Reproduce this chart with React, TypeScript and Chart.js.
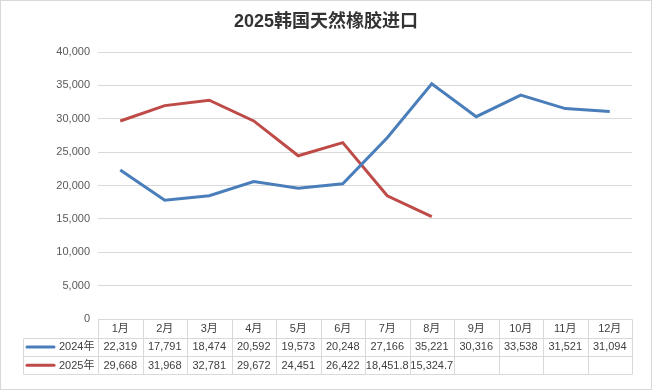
import React, { useEffect, useRef } from "react";
import { Chart, registerables } from "chart.js";

Chart.register(...registerables);

const title = "2025韩国天然橡胶进口";
const months = ["1月", "2月", "3月", "4月", "5月", "6月", "7月", "8月", "9月", "10月", "11月", "12月"];
const seriesNames = ["2024年", "2025年"];
const values2024 = [22319, 17791, 18474, 20592, 19573, 20248, 27166, 35221, 30316, 33538, 31521, 31094];
const values2025: (number | null)[] = [29668, 31968, 32781, 29672, 24451, 26422, 18451.8, 15324.7, null, null, null, null];
const colors = ["#4A7EBB", "#BE4B48"];

const fmt = (v: number | null) => (v == null ? "" : v.toLocaleString("en-US", { maximumFractionDigits: 1 }));

const tablePlugin = {
  id: "tablePlugin",
  afterDraw(chart: any) {
    const { ctx, chartArea } = chart;
    const x = chart.scales.x;
    const W = chart.width;
    const H = chart.height;
    ctx.save();
    // outer border
    ctx.strokeStyle = "#d9d9d9";
    ctx.lineWidth = 1;
    ctx.strokeRect(0.5, 0.5, W - 1, H - 1);

    // title
    ctx.fillStyle = "#333333";
    ctx.font = "bold 18px 'Liberation Sans', 'Noto Sans CJK SC', sans-serif";
    ctx.textAlign = "center";
    ctx.textBaseline = "middle";
    ctx.fillText(title, W / 2, 22);

    const n = months.length;
    const step = (chartArea.right - chartArea.left) / n;
    const top = Math.round(chartArea.bottom) + 0.5;
    const rowH = 18.3;
    const legendLeft = 23.5;
    const left = Math.round(chartArea.left) + 0.5;
    const right = Math.round(chartArea.right) + 0.5;
    const r1 = top + rowH;
    const r2 = r1 + rowH;
    const r3 = r2 + rowH;
    ctx.strokeStyle = "#d9d9d9";
    ctx.beginPath();
    // horizontal lines
    ctx.moveTo(left, top); ctx.lineTo(right, top);
    ctx.moveTo(legendLeft, Math.round(r1) + 0.5); ctx.lineTo(right, Math.round(r1) + 0.5);
    ctx.moveTo(legendLeft, Math.round(r2) + 0.5); ctx.lineTo(right, Math.round(r2) + 0.5);
    ctx.moveTo(legendLeft, Math.round(r3) + 0.5); ctx.lineTo(right, Math.round(r3) + 0.5);
    // verticals
    ctx.moveTo(legendLeft, Math.round(r1) + 0.5); ctx.lineTo(legendLeft, Math.round(r3) + 0.5);
    for (let i = 0; i <= n; i++) {
      const xx = Math.round(chartArea.left + step * i) + 0.5;
      ctx.moveTo(xx, top); ctx.lineTo(xx, Math.round(r3) + 0.5);
    }
    ctx.stroke();

    ctx.font = "11px 'Liberation Sans', 'Noto Sans CJK SC', sans-serif";
    ctx.fillStyle = "#404040";
    ctx.textAlign = "center";
    ctx.textBaseline = "middle";
    const rowsData = [values2024, values2025];
    for (let i = 0; i < n; i++) {
      const cx = x.getPixelForValue(i);
      ctx.fillText(months[i], cx, (top + r1) / 2 + 0.5);
      rowsData.forEach((arr, r) => {
        ctx.fillText(fmt(arr[i]), cx, top + rowH * (r + 1.5) + 0.5);
      });
    }
    // legend cells
    rowsData.forEach((_, r) => {
      const cy = top + rowH * (r + 1.5);
      ctx.strokeStyle = colors[r];
      ctx.lineWidth = 3;
      ctx.lineCap = "round";
      ctx.beginPath();
      ctx.moveTo(27, cy);
      ctx.lineTo(54, cy);
      ctx.stroke();
      ctx.fillStyle = "#404040";
      ctx.textAlign = "left";
      ctx.fillText(seriesNames[r], 59, cy + 0.5);
    });
    ctx.restore();
  },
};

export default function App() {
  const ref = useRef<HTMLCanvasElement>(null);
  useEffect(() => {
    document.body.style.margin = "0";
    const chart = new Chart(ref.current!, {
      type: "line",
      data: {
        labels: months,
        datasets: [
          { label: seriesNames[0], data: values2024, borderColor: colors[0], backgroundColor: colors[0], borderWidth: 3, pointRadius: 0, tension: 0 },
          { label: seriesNames[1], data: values2025, borderColor: colors[1], backgroundColor: colors[1], borderWidth: 3, pointRadius: 0, tension: 0 },
        ],
      },
      options: {
        responsive: false,
        animation: false,
        layout: { padding: { top: 52, bottom: 71, left: 0, right: 20 } },
        plugins: { legend: { display: false }, title: { display: false }, tooltip: { enabled: false } },
        scales: {
          x: { display: false, offset: true },
          y: {
            min: 0,
            max: 40000,
            afterFit: (s: any) => { s.width = 98; },
            ticks: {
              stepSize: 5000,
              padding: 8,
              color: "#595959",
              font: { family: "'Liberation Sans', sans-serif", size: 11 },
              callback: (v: any) => Number(v).toLocaleString("en-US"),
            },
            grid: { color: "#d9d9d9", drawTicks: false },
            border: { display: false },
          },
        },
      },
      plugins: [tablePlugin],
    });
    return () => chart.destroy();
  }, []);
  return <canvas ref={ref} width={652} height={390} style={{ display: "block" }} />;
}
